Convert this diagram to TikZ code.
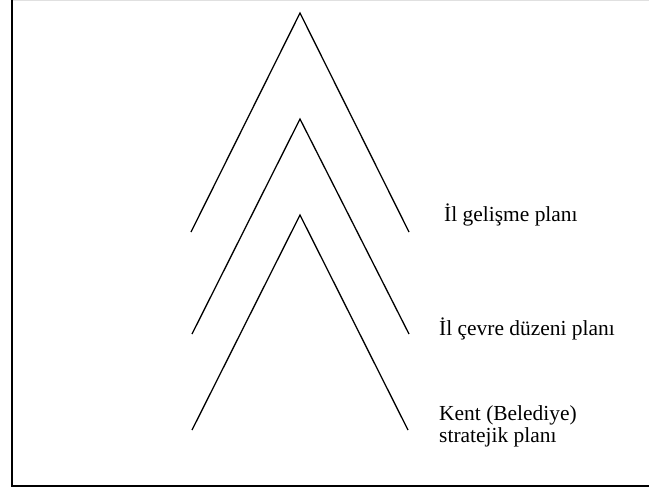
\documentclass[tikz,border=0pt]{standalone}
\usepackage{fontspec}
\setmainfont{Liberation Serif}
\usepackage{tikz}
\tikzset{
    ince/.style={draw=black, line width=1.1pt},
    cerceve/.style={draw=black, line width=1.7pt},
    etiket/.style={font=\fontsize{18.3}{18.1}\selectfont, inner sep=0pt, anchor=base west, align=left}
}

\begin{document}
\begin{tikzpicture}[x=0.03cm, y=-0.03cm]
    \useasboundingbox (0,0) rectangle (649,491);
    \draw[draw=black!12, line width=0.8pt] (12,0.5) -- (649,0.5);
    \draw[cerceve] (11.7,0) -- (11.7,485.7) -- (649,485.7);
    \draw[ince] (191,232) -- (300,13) -- (409,232);
    \draw[ince] (192,334) -- (300,119) -- (409,334);
    \draw[ince] (192,430) -- (300,215) -- (408,430);
    \node[etiket] (gelisme) at (444,221) {İl gelişme planı};
    \node[etiket] (cevre) at (439,335) {İl çevre düzeni planı};
    \node[etiket] (kent) at (439,442) {Kent (Belediye)\\stratejik planı};
\end{tikzpicture}
\end{document}
